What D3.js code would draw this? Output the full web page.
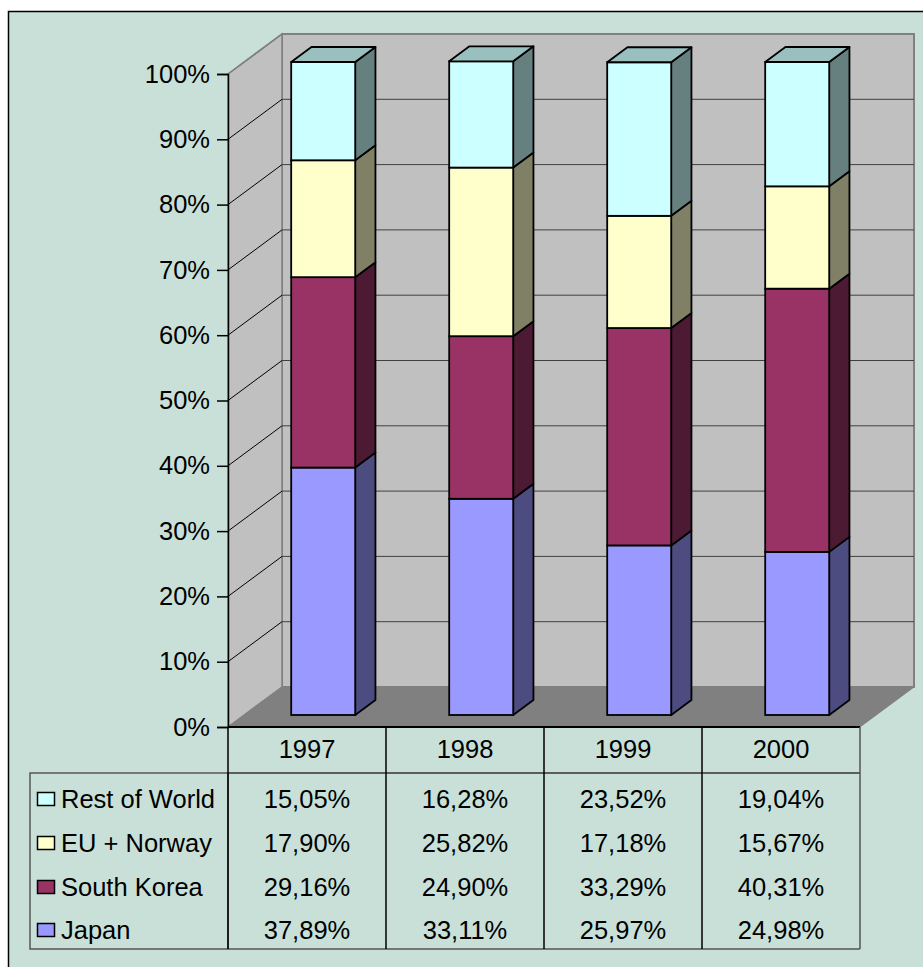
<!DOCTYPE html>
<html>
<head>
<meta charset="utf-8">
<script src="https://cdn.jsdelivr.net/npm/d3@7"></script>
<style>
  html, body { margin: 0; padding: 0; background: #ffffff; }
  svg { display: block; }
  text { font-family: "Liberation Sans", Arial, sans-serif; fill: #000; }
</style>
</head>
<body>
<svg id="chart" width="923" height="967"></svg>
<script>
// ---- data ----
const years = ["1997", "1998", "1999", "2000"];
const seriesNames = ["Japan", "South Korea", "EU + Norway", "Rest of World"];
const japan = [37.89, 33.11, 25.97, 24.98];
const southKorea = [29.16, 24.90, 33.29, 40.31];
const euNorway = [17.90, 25.82, 17.18, 15.67];
const restOfWorld = [15.05, 16.28, 23.52, 19.04];
const yTickValues = [0, 10, 20, 30, 40, 50, 60, 70, 80, 90, 100];

const seriesValues = [japan, southKorea, euNorway, restOfWorld];
const frontColors = ["#9999FF", "#993366", "#FFFFCC", "#CCFFFF"];
const sideColors = ["#4C4C80", "#4D1A33", "#808066", "#668080"];
const topColors = ["#7373BF", "#73264D", "#BFBF99", "#99BFBF"];

const rows = years.map((yr, i) => {
  const r = { year: yr };
  seriesNames.forEach((s, j) => r[s] = seriesValues[j][i]);
  return r;
});
const stacked = d3.stack().keys(seriesNames)(rows);

// ---- geometry ----
const svg = d3.select("#chart");
const pLeft = 228, pRight = 860, pBottom = 727, pTop = 74;
const DX = 54, DY = -40;         // floor depth
const bf = 0.3, bd = 0.375;      // bar front offset, bar depth (fraction of DX/DY)
const barW = 64;
const fs = "25.5px";

const x = d3.scaleBand().domain(years).range([pLeft, pRight]).padding(0);
const y = d3.scaleLinear().domain([0, 100]).range([pBottom, pTop]);

// background
svg.append("rect").attr("x", 8.5).attr("y", 11.5).attr("width", 940).attr("height", 980)
  .attr("fill", "#C9E0D8").attr("stroke", "#000").attr("stroke-width", 1.5);

// back wall
svg.append("rect").attr("x", pLeft + DX).attr("y", pTop + DY)
  .attr("width", pRight - pLeft).attr("height", pBottom - pTop)
  .attr("fill", "#C0C0C0").attr("stroke", "#808080").attr("stroke-width", 2);

// left wall
svg.append("polygon")
  .attr("points", [[pLeft, pTop], [pLeft + DX, pTop + DY], [pLeft + DX, pBottom + DY], [pLeft, pBottom]].join(" "))
  .attr("fill", "#C0C0C0").attr("stroke", "#808080").attr("stroke-width", 1.5);

// floor
svg.append("polygon")
  .attr("points", [[pLeft, pBottom], [pLeft + DX, pBottom + DY], [pRight + DX, pBottom + DY], [pRight, pBottom]].join(" "))
  .attr("fill", "#808080").attr("stroke", "#808080").attr("stroke-width", 1);

// gridlines
const gridVals = yTickValues.filter(v => v > 0 && v < 100);
svg.append("g").selectAll("line").data(gridVals).join("line")
  .attr("x1", pLeft + DX).attr("x2", pRight + DX)
  .attr("y1", d => y(d) + DY).attr("y2", d => y(d) + DY)
  .attr("stroke", "#404040").attr("stroke-width", 1);
svg.append("g").selectAll("line").data(gridVals).join("line")
  .attr("x1", pLeft).attr("x2", pLeft + DX)
  .attr("y1", d => y(d)).attr("y2", d => y(d) + DY)
  .attr("stroke", "#000").attr("stroke-width", 1);
svg.append("line").attr("x1", pLeft).attr("y1", pTop).attr("x2", pLeft + DX).attr("y2", pTop + DY)
  .attr("stroke", "#808080").attr("stroke-width", 1.5);

// axis
const axis = d3.axisLeft(y).tickValues(yTickValues).tickFormat(d => d + "%")
  .tickSize(11).tickPadding(7);
const ag = svg.append("g").attr("transform", `translate(${pLeft},0)`).call(axis);
ag.select(".domain").attr("stroke", "#000").attr("stroke-width", 1.5);
ag.selectAll(".tick line").attr("stroke", "#000").attr("stroke-width", 1.5);
ag.selectAll(".tick text").style("font-size", fs).style("font-family", '"Liberation Sans", Arial, sans-serif');

// bars
const offX = DX * bf, offY = DY * bf;
const dX = DX * bd, dY = DY * bd;
const barsG = svg.append("g");
stacked.forEach((layer, si) => {
  layer.forEach((d, ci) => {
    const xl = x(years[ci]) + (x.bandwidth() - barW) / 2 + offX;
    const xr = xl + barW;
    const y0 = y(d[0]) + offY, y1 = y(d[1]) + offY;
    barsG.append("polygon")
      .attr("points", [[xr, y1], [xr + dX, y1 + dY], [xr + dX, y0 + dY], [xr, y0]].join(" "))
      .attr("fill", sideColors[si]).attr("stroke", "#000").attr("stroke-width", 1.8).attr("stroke-linejoin", "round");
    barsG.append("rect").attr("x", xl).attr("y", y1).attr("width", barW).attr("height", y0 - y1)
      .attr("fill", frontColors[si]).attr("stroke", "#000").attr("stroke-width", 1.8);
    if (si === stacked.length - 1) {
      barsG.append("polygon")
        .attr("points", [[xl, y1], [xl + dX, y1 + dY], [xr + dX, y1 + dY], [xr, y1]].join(" "))
        .attr("fill", topColors[si]).attr("stroke", "#000").attr("stroke-width", 1.8).attr("stroke-linejoin", "round");
    }
  });
});

// ---- data table ----
const hdrBottom = 773, tblBottom = 949, legLeft = 30;
const rowCenters = [799, 843, 887, 930];
const tg = svg.append("g");
tg.append("rect").attr("x", legLeft).attr("y", hdrBottom).attr("width", pLeft - legLeft)
  .attr("height", tblBottom - hdrBottom).attr("fill", "none").attr("stroke", "#555").attr("stroke-width", 1.5);
tg.append("line").attr("x1", pLeft).attr("x2", pRight).attr("y1", pBottom).attr("y2", pBottom)
  .attr("stroke", "#000").attr("stroke-width", 2);
tg.append("line").attr("x1", pLeft).attr("x2", pRight).attr("y1", hdrBottom).attr("y2", hdrBottom)
  .attr("stroke", "#333").attr("stroke-width", 1.5);
tg.append("line").attr("x1", pLeft).attr("x2", pRight).attr("y1", tblBottom).attr("y2", tblBottom)
  .attr("stroke", "#555").attr("stroke-width", 1.5);
const colEdges = years.map(yr => x(yr)).concat([pRight]);
tg.selectAll("line.col").data(colEdges).join("line").attr("class", "col")
  .attr("x1", d => d).attr("x2", d => d).attr("y1", pBottom).attr("y2", tblBottom)
  .attr("stroke", (d, i) => i === colEdges.length - 1 ? "#555" : "#000").attr("stroke-width", 1.5);

tg.selectAll("text.hdr").data(years).join("text").attr("class", "hdr")
  .attr("x", d => x(d) + x.bandwidth() / 2).attr("y", 749)
  .attr("text-anchor", "middle").attr("dominant-baseline", "central")
  .style("font-size", fs).text(d => d);

const fmt = v => d3.format(".2f")(v).replace(".", ",") + "%";
const tableOrder = [3, 2, 1, 0];
tableOrder.forEach((si, ri) => {
  const cy = rowCenters[ri];
  tg.append("rect").attr("x", 37.5).attr("y", cy - 6.5).attr("width", 17).attr("height", 13)
    .attr("fill", frontColors[si]).attr("stroke", "#000").attr("stroke-width", 1.5);
  tg.append("text").attr("x", 61).attr("y", cy).attr("dominant-baseline", "central")
    .style("font-size", fs).text(seriesNames[si]);
  seriesValues[si].forEach((v, ci) => {
    tg.append("text").attr("x", x(years[ci]) + x.bandwidth() / 2).attr("y", cy)
      .attr("text-anchor", "middle").attr("dominant-baseline", "central")
      .style("font-size", fs).text(fmt(v));
  });
});
</script>
</body>
</html>
